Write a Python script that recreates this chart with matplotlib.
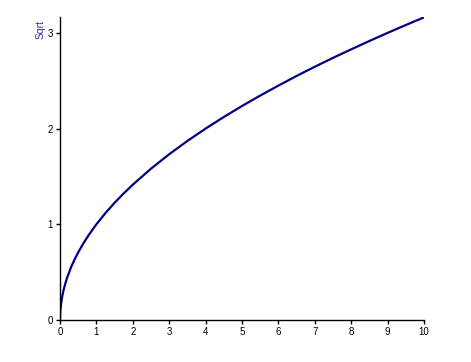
import matplotlib
matplotlib.use("Agg")
import matplotlib.pyplot as plt

plt.rcParams['font.family'] = ['Liberation Sans', 'DejaVu Sans']

# values
x_vals = [0, 0.002, 0.01, 0.03, 0.06, 0.1, 0.15, 0.2, 0.3, 0.4, 0.5, 0.65, 0.8, 1.0,
          1.25, 1.5, 1.75, 2.0, 2.5, 3.0, 3.5, 4.0, 4.5, 5.0, 5.5, 6.0, 6.5, 7.0,
          7.5, 8.0, 8.5, 9.0, 9.5, 10.0]
y_vals = [0, 0.045, 0.10, 0.17, 0.245, 0.316, 0.387, 0.447, 0.548, 0.632, 0.707, 0.806,
          0.894, 1.0, 1.118, 1.225, 1.323, 1.414, 1.581, 1.732, 1.871, 2.0, 2.121,
          2.236, 2.345, 2.449, 2.55, 2.646, 2.739, 2.828, 2.915, 3.0, 3.082, 3.162]
x_ticks = list(range(0, 11))
y_ticks = [0, 1, 2, 3]

fig = plt.figure(figsize=(4.71, 3.62), dpi=100)
ax = fig.add_axes([0.1274, 0.116, 0.7728, 0.836])

ax.plot(x_vals, y_vals, color='#000080', lw=1.6, solid_capstyle='butt')

ax.set_xlim(0, 10)
ax.set_ylim(0, 3.162)
ax.set_xticks(x_ticks)
ax.set_yticks(y_ticks)
ax.tick_params(direction='out', length=3, width=1, labelsize=7, pad=2)
for s in ['top', 'right']:
    ax.spines[s].set_visible(False)
for s in ['left', 'bottom']:
    ax.spines[s].set_linewidth(1)

fig.text(0.087, 0.945, 'Sqrt', rotation=90, color='#3030a0', fontsize=7.5,
         ha='center', va='top')

fig.savefig('out.png', dpi=100)
